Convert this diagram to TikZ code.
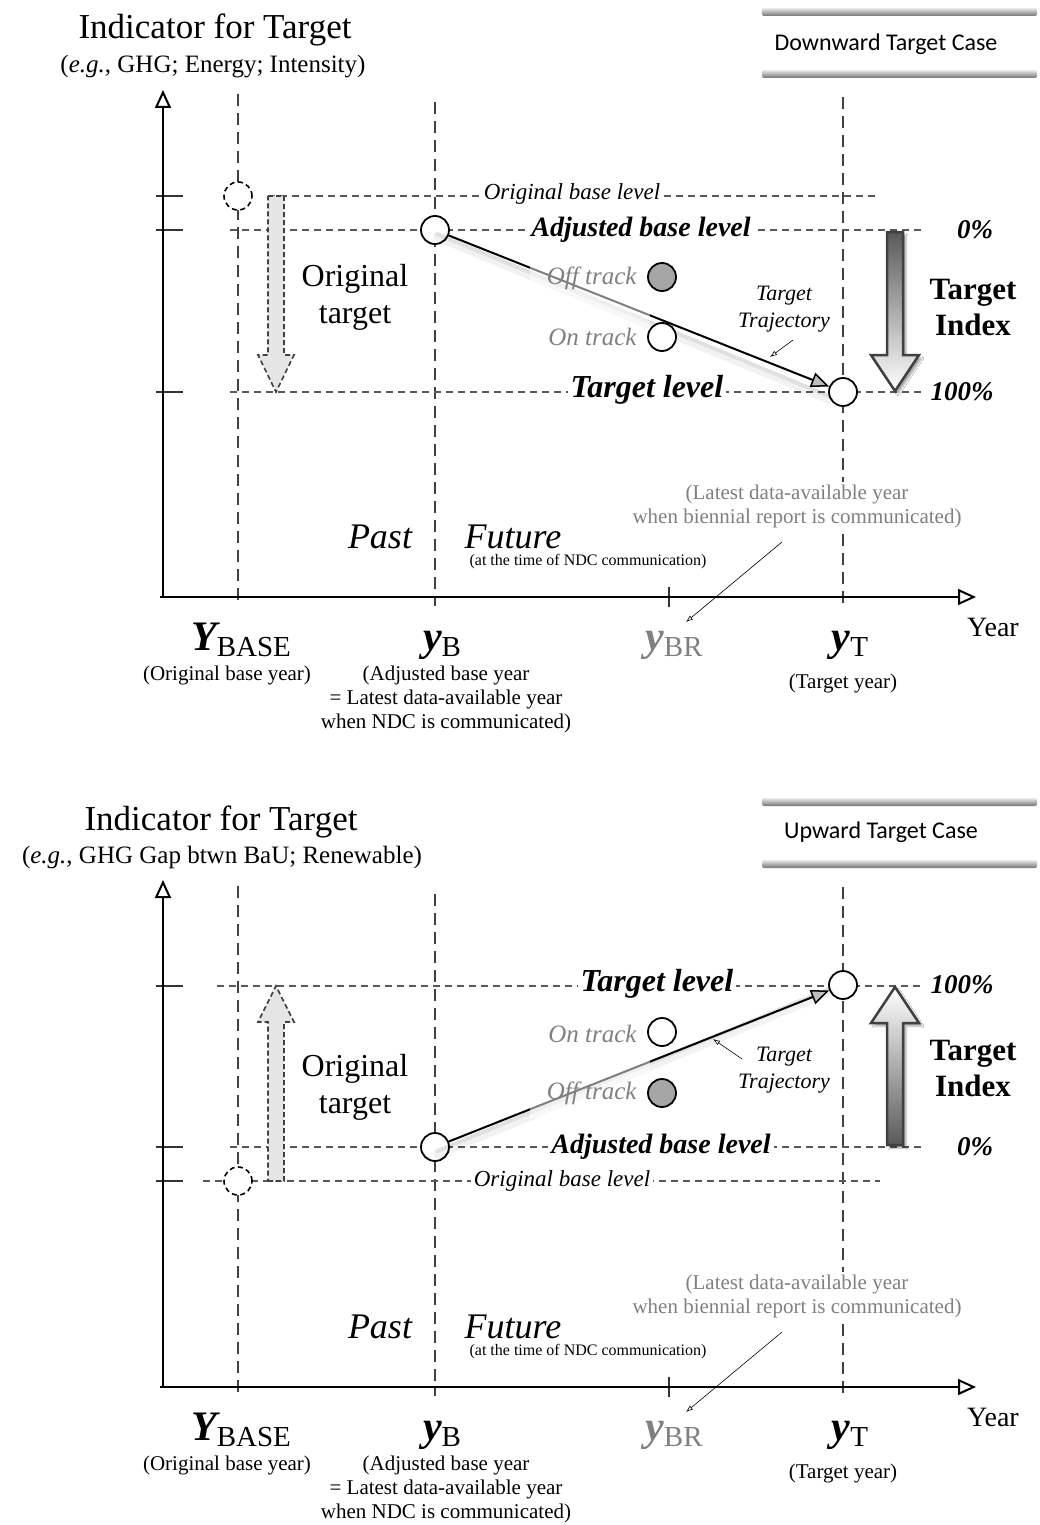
\documentclass[tikz,border=0pt]{standalone}
\usepackage{fontspec}
\setmainfont{Liberation Serif}
\newfontfamily\calibrifont{Carlito}
\usetikzlibrary{arrows.meta,shadows.blur,calc}
\newcommand\fsz[2]{\fontsize{#1}{#2}\selectfont}
\newcommand\yearlbl[2]{{\fsz{42}{46}\bfseries\itshape #1}{\fsz{29}{32}\raisebox{-6pt}{#2}}}
\definecolor{lg}{gray}{0.5}
\begin{document}
\begin{tikzpicture}[x=1pt,y=-1pt,
  vdash/.style={draw=black!75, line width=1.1pt, dash pattern=on 12pt off 7pt},
  hdash/.style={draw=black!65, line width=1.1pt, dash pattern=on 7pt off 5pt},
  tickline/.style={draw=black!80, line width=1.4pt},
  axisline/.style={line width=2.6pt, -{Triangle[open, length=18pt, width=16pt, line width=2pt]}},
  pt/.style={circle, draw=black, line width=1.8pt, fill=white, minimum size=28pt, inner sep=0pt},
  ptoff/.style={pt, fill=black!35},
  ptorig/.style={circle, draw=black, line width=1.6pt, dash pattern=on 5pt off 3.5pt, fill=white, minimum size=28pt, inner sep=0pt},
  traj/.style={line width=2pt, -{Triangle[length=18pt, width=15pt, fill=black!25, line width=1.5pt]}},
  trajshadowA/.style={line width=9pt, black, opacity=0.05, line cap=round},
  trajshadowB/.style={line width=4pt, black, opacity=0.07, line cap=round},
  smallarrow/.style={line width=0.6pt, -{Latex[open, length=7pt, width=5pt]}},
  origarrow/.style={draw=black!75, fill=black!10, line width=1.6pt, dash pattern=on 5pt off 3pt},
  idxarrow/.style={draw=black!75, line width=2.5pt, blur shadow={shadow xshift=3pt, shadow yshift=-3pt, shadow opacity=35}},
  bar/.style={top color=black!8, bottom color=black!55, rounded corners=2pt},
  boxtext/.style={font=\calibrifont\fsz{24}{28}},
  title/.style={font=\fsz{35}{39}},
  subtitle/.style={font=\fsz{25}{29}},
  lvl/.style={fill=white, inner sep=3pt, font=\fsz{28}{32}\bfseries\itshape},
  tlvl/.style={fill=white, inner sep=3pt, font=\fsz{32}{36}\bfseries\itshape},
  olvl/.style={fill=white, inner sep=3pt, font=\fsz{23}{27}\itshape},
  pct/.style={font=\fsz{27}{31}\bfseries\itshape},
  idx/.style={font=\fsz{31}{36}\bfseries, align=center},
  orig/.style={font=\fsz{32}{37}, align=center},
  track/.style={font=\fsz{25}{29}\itshape, text=lg},
  trajlbl/.style={font=\fsz{22}{27}\itshape, align=center},
  era/.style={font=\fsz{36}{40}\itshape},
  small/.style={font=\fsz{16}{19}},
  latest/.style={font=\fsz{21}{24}, text=lg, align=center, fill=white, inner sep=2pt},
  ylbl/.style={anchor=base},
  note/.style={font=\fsz{21}{24}, align=center},
]
\useasboundingbox[fill=white] (0,0) rectangle (1040,1525);

%================ TOP PANEL =================
\shade[bar] (762,8) rectangle (1037,16);
\shade[bar] (762,70) rectangle (1037,78);
\node[boxtext] (t-case) at (886,44) {Downward Target Case};

\node[title] (t-title) at (215,30) {Indicator for Target};
\node[subtitle] (t-sub) at (213,67) {(\textit{e.g.}, GHG; Energy; Intensity)};

% dashed grid
\draw[vdash] (238,94) -- (238,606);
\draw[vdash] (435,102) -- (435,606);
\draw[vdash] (843,97) -- (843,604);
\draw[tickline] (669,587) -- (669,607);
\draw[hdash] (268,196) -- (878,196);
\draw[hdash] (230,230) -- (922,230);
\draw[hdash] (230,392) -- (922,392);
\foreach \yy in {196,230,392} \draw[tickline] (156,\yy) -- (183,\yy);

% axes
\coordinate (t-o) at (163,597);
\coordinate (t-ytip) at (163,90);
\coordinate (t-xo) at (160,597);
\coordinate (t-xtip) at (976,597);
\draw[axisline] (t-o) -- (t-ytip);
\draw[axisline] (t-xo) -- (t-xtip);

% original target arrow
\path[origarrow] (268,196) -- (284,196) -- (284,355) -- (294,355) -- (276,392) -- (258,355) -- (268,355) -- cycle;

% target index arrow
\path[idxarrow, top color=black!65, bottom color=white] (887,232) -- (903,232) -- (903,355) -- (919,355) -- (895,391) -- (871,355) -- (887,355) -- cycle;

% points
\node[ptorig] (t-orig) at (238,196) {};
\node[pt] (t-yb) at (435,230) {};
\node[pt] (t-yt) at (843,392) {};

% trajectory
\draw[trajshadowA] ($(t-yb)+(3,7)$) -- ($(t-yt)+(-14,7)$);
\draw[trajshadowB] ($(t-yb)+(2,4)$) -- ($(t-yt)+(-14,4)$);
\draw[traj] (t-yb) -- (t-yt);
\fill[white, opacity=0.5] (530,250) rectangle (650,355);
\node[ptoff] (t-off) at (662,277) {};
\node[pt] (t-on) at (662,337) {};
\node[track, anchor=east] (t-offl) at (640,278) {Off track};
\node[track, anchor=east] (t-onl) at (640,337) {On track};
\node[trajlbl] (t-trajl) at (784,309) {Target\\Trajectory};
\coordinate (t-ta) at (793,340);
\coordinate (t-tb) at (770,357);
\draw[smallarrow] (t-ta) -- (t-tb);

% level labels
\node[olvl] (t-obl) at (572,194) {Original base level};
\node[lvl] (t-abl) at (641,230) {Adjusted base level};
\node[tlvl] (t-tl) at (647,390) {Target level};
\node[pct] (t-p0) at (975,230) {0\%};
\node[pct] (t-p100) at (962,392) {100\%};
\node[idx] (t-idx) at (973,308) {Target\\Index};
\node[orig] (t-origt) at (355,297) {Original\\target};

% past / future
\node[era] (t-past) at (380,537) {Past};
\node[era] (t-fut) at (513,537) {Future};
\node[small] (t-ndc) at (588,562) {(at the time of NDC communication)};
\node[latest] (t-latest) at (797,506) {(Latest data-available year\\when biennial report is communicated)};
\coordinate (t-la) at (782,542);
\coordinate (t-lb) at (686,622);
\draw[smallarrow] (t-la) -- (t-lb);

% axis labels
\node[font=\fsz{28}{32}] (t-year) at (993,627) {Year};
\node[ylbl] (t-ybase) at (241,650) {\yearlbl{Y}{BASE}};
\node[ylbl] (t-yblab) at (442,650) {\yearlbl{y}{B}};
\node[ylbl, text=lg] (t-ybr) at (674,650) {\yearlbl{y}{BR}};
\node[ylbl] (t-ytlab) at (850,650) {\yearlbl{y}{T}};
\node[note] (t-n1) at (227,675) {(Original base year)};
\node[note] (t-n2) at (446,699) {(Adjusted base year\\= Latest data-available year\\when NDC is communicated)};
\node[note] (t-n3) at (843,683) {(Target year)};

%================ BOTTOM PANEL =================
\shade[bar] (762,798) rectangle (1037,806);
\shade[bar] (762,860) rectangle (1037,868);
\node[boxtext] (b-case) at (881,832) {Upward Target Case};

\node[title] (b-title) at (221,822) {Indicator for Target};
\node[subtitle] (b-sub) at (222,857) {(\textit{e.g.}, GHG Gap btwn BaU; Renewable)};

\draw[vdash] (238,886) -- (238,1396);
\draw[vdash] (435,894) -- (435,1396);
\draw[vdash] (843,887) -- (843,1394);
\draw[tickline] (669,1377) -- (669,1397);
\draw[hdash] (217,986) -- (922,986);
\draw[hdash] (230,1147) -- (922,1147);
\draw[hdash] (203,1181) -- (880,1181);
\foreach \yy in {986,1147,1181} \draw[tickline] (156,\yy) -- (183,\yy);

\coordinate (b-o) at (163,1387);
\coordinate (b-ytip) at (163,880);
\coordinate (b-xo) at (160,1387);
\coordinate (b-xtip) at (976,1387);
\draw[axisline] (b-o) -- (b-ytip);
\draw[axisline] (b-xo) -- (b-xtip);

\path[origarrow] (268,1181) -- (284,1181) -- (284,1022) -- (294,1022) -- (276,986) -- (258,1022) -- (268,1022) -- cycle;
\path[idxarrow, top color=white, bottom color=black!65] (887,1145) -- (903,1145) -- (903,1023) -- (919,1023) -- (895,987) -- (871,1023) -- (887,1023) -- cycle;

\node[ptorig] (b-orig) at (238,1181) {};
\node[pt] (b-yb) at (435,1147) {};
\node[pt] (b-yt) at (843,985) {};

\draw[trajshadowA] ($(b-yb)+(3,7)$) -- ($(b-yt)+(-14,7)$);
\draw[trajshadowB] ($(b-yb)+(2,4)$) -- ($(b-yt)+(-14,4)$);
\draw[traj] (b-yb) -- (b-yt);
\fill[white, opacity=0.5] (530,1055) rectangle (650,1118);
\node[pt] (b-on) at (662,1032) {};
\node[ptoff] (b-off) at (662,1093) {};
\node[track, anchor=east] (b-onl) at (640,1034) {On track};
\node[track, anchor=east] (b-offl) at (640,1093) {Off track};
\node[trajlbl] (b-trajl) at (784,1070) {Target\\Trajectory};
\coordinate (b-ta) at (742,1059);
\coordinate (b-tb) at (713,1039);
\draw[smallarrow] (b-ta) -- (b-tb);

\node[tlvl] (b-tl) at (657,984) {Target level};
\node[lvl] (b-abl) at (661,1147) {Adjusted base level};
\node[olvl] (b-obl) at (562,1181) {Original base level};
\node[pct] (b-p100) at (962,985) {100\%};
\node[pct] (b-p0) at (975,1147) {0\%};
\node[idx] (b-idx) at (973,1068) {Target\\Index};
\node[orig] (b-origt) at (355,1087) {Original\\target};

\node[era] (b-past) at (380,1327) {Past};
\node[era] (b-fut) at (513,1327) {Future};
\node[small] (b-ndc) at (588,1352) {(at the time of NDC communication)};
\node[latest] (b-latest) at (797,1296) {(Latest data-available year\\when biennial report is communicated)};
\coordinate (b-la) at (782,1332);
\coordinate (b-lb) at (686,1412);
\draw[smallarrow] (b-la) -- (b-lb);

\node[font=\fsz{28}{32}] (b-year) at (993,1417) {Year};
\node[ylbl] (b-ybase) at (241,1440) {\yearlbl{Y}{BASE}};
\node[ylbl] (b-yblab) at (442,1440) {\yearlbl{y}{B}};
\node[ylbl, text=lg] (b-ybr) at (674,1440) {\yearlbl{y}{BR}};
\node[ylbl] (b-ytlab) at (850,1440) {\yearlbl{y}{T}};
\node[note] (b-n1) at (227,1465) {(Original base year)};
\node[note] (b-n2) at (446,1489) {(Adjusted base year\\= Latest data-available year\\when NDC is communicated)};
\node[note] (b-n3) at (843,1473) {(Target year)};
\end{tikzpicture}
\end{document}
